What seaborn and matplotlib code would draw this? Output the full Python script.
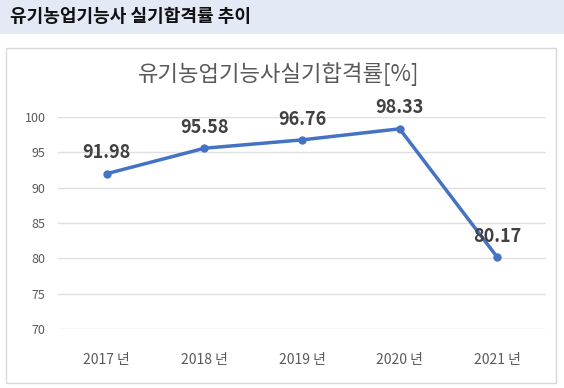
import matplotlib
matplotlib.use("Agg")
import matplotlib.pyplot as plt
import seaborn as sns
import pandas as pd
from matplotlib.patches import Rectangle

years = ["2017 년", "2018 년", "2019 년", "2020 년", "2021 년"]
pass_rate = [91.98, 95.58, 96.76, 98.33, 80.17]
y_ticks = [70, 75, 80, 85, 90, 95, 100]

header_title = "유기농업기능사 실기합격률 추이"
chart_title = "유기농업기능사실기합격률[%]"

df = pd.DataFrame({"year": years, "rate": pass_rate})

sns.set_style("white")
plt.rcParams["font.family"] = ["Noto Sans CJK KR", "DejaVu Sans"]

fig = plt.figure(figsize=(5.64, 3.88), dpi=100)

# header band
fig.patches.append(Rectangle((0, 1 - 34 / 388), 1, 34 / 388, transform=fig.transFigure,
                             facecolor="#e4eaf5", edgecolor="none", zorder=-2))
fig.text(10 / 564, 1 - 17 / 388, header_title, fontsize=13, fontweight="bold",
         color="#111111", va="center", ha="left")

# chart frame
fig.patches.append(Rectangle((6 / 564, 1 - 383 / 388), 550 / 564, 335 / 388,
                             transform=fig.transFigure, facecolor="white",
                             edgecolor="#d9d9d9", linewidth=1, zorder=-2))

ax = fig.add_axes([58 / 564, 1 - 329 / 388, 488 / 564, 212 / 388])
ax.set_facecolor("none")
ax.set_zorder(2)

sns.lineplot(data=df, x="year", y="rate", ax=ax, color="#4472c4", linewidth=2.5,
             marker="o", markersize=6, markeredgewidth=0, sort=False)

for i, v in enumerate(pass_rate):
    ax.annotate(f"{v:.2f}", (i, v), xytext=(0, 15), textcoords="offset points",
                ha="center", va="center", fontsize=13, fontweight="bold", color="#404040")

ax.set_ylim(70, 100)
ax.set_yticks(y_ticks)
ax.set_xlim(-0.5, len(years) - 0.5)
ax.grid(axis="y", color="#e0e0e0", linewidth=1)
ax.set_axisbelow(True)
for s in ax.spines.values():
    s.set_visible(False)
ax.tick_params(axis="y", length=0, labelsize=9, labelcolor="#595959", pad=9)
ax.tick_params(axis="x", length=0, labelsize=10, labelcolor="#595959", pad=17)
ax.set_xlabel("")
ax.set_ylabel("")

fig.text(279 / 564, 1 - 74 / 388, chart_title, fontsize=16, color="#595959",
         ha="center", va="center")

fig.savefig("out.png", dpi=100)
